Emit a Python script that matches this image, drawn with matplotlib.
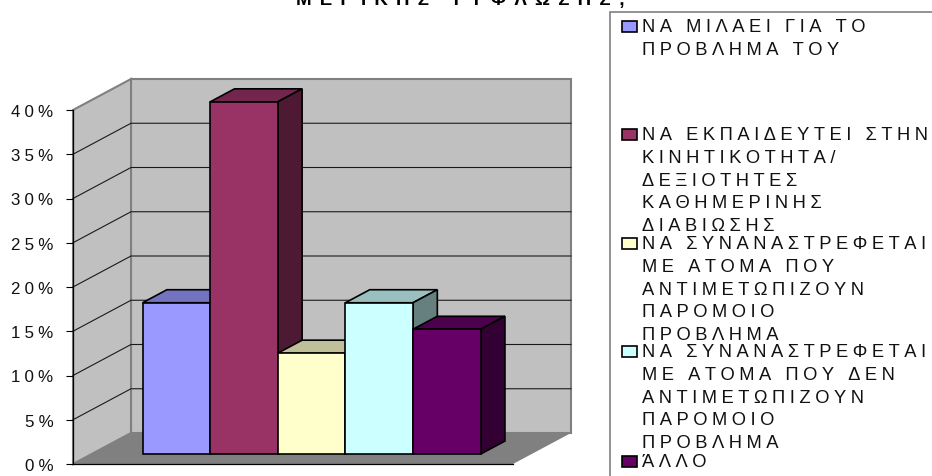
import matplotlib
matplotlib.use("Agg")
import matplotlib.pyplot as plt
from matplotlib.patches import Polygon, Rectangle

plt.rcParams['font.family'] = ['Liberation Sans', 'DejaVu Sans']

W, H = 932, 477
HS = '\u200a'  # hair space, the original text is letter spaced


def spaced(s, n=2):
    return (HS * n).join(s)


answers = ['ΝΑ ΜΙΛΑΕΙ ΓΙΑ ΤΟ\nΠΡΟΒΛΗΜΑ ΤΟΥ',
           'ΝΑ ΕΚΠΑΙΔΕΥΤΕΙ ΣΤΗΝ\nΚΙΝΗΤΙΚΟΤΗΤΑ/\nΔΕΞΙΟΤΗΤΕΣ\nΚΑΘΗΜΕΡΙΝΗΣ\nΔΙΑΒΙΩΣΗΣ',
           'ΝΑ ΣΥΝΑΝΑΣΤΡΕΦΕΤΑΙ\nΜΕ ΑΤΟΜΑ ΠΟΥ\nΑΝΤΙΜΕΤΩΠΙΖΟΥΝ\nΠΑΡΟΜΟΙΟ\nΠΡΟΒΛΗΜΑ',
           'ΝΑ ΣΥΝΑΝΑΣΤΡΕΦΕΤΑΙ\nΜΕ ΑΤΟΜΑ ΠΟΥ ΔΕΝ\nΑΝΤΙΜΕΤΩΠΙΖΟΥΝ\nΠΑΡΟΜΟΙΟ\nΠΡΟΒΛΗΜΑ',
           'ΆΛΛΟ']
values = [17.1, 39.8, 11.4, 17.1, 14.1]
front_colors = ['#9999FF', '#993366', '#FFFFCC', '#CCFFFF', '#660066']
top_colors = ['#7373BF', '#73264D', '#BFBF99', '#99BFBF', '#4D004D']
side_colors = ['#4D4D80', '#4D1933', '#808066', '#668080', '#330033']
yticks = [0, 5, 10, 15, 20, 25, 30, 35, 40]
title = 'ΜΕΡΙΚΗΣ ΤΥΦΛΩΣΗΣ;'

fig = plt.figure(figsize=(W / 100, H / 100), dpi=100)
ax = fig.add_axes([73 / W, (H - 465) / H, 440 / W, 354 / H])
ax.set_xlim(-1.254, 5.254)
ax.set_ylim(0, 40)

# oblique depth of the chart box, in data units
px_x = 440 / 6.508
px_y = 354 / 40
dx = 58 / px_x
dy = 31 / px_y
bar_front = 0.32
bar_back = 0.74
x0, x1 = ax.get_xlim()

# walls and floor
ax.add_patch(Polygon([(x0 + dx, dy), (x1 + dx, dy), (x1 + dx, 40 + dy), (x0 + dx, 40 + dy)],
                     fc='#C0C0C0', ec='#808080', lw=1.5, clip_on=False, zorder=1))
ax.add_patch(Polygon([(x0, 0), (x0 + dx, dy), (x0 + dx, 40 + dy), (x0, 40)],
                     fc='#C0C0C0', ec='#808080', lw=1.5, clip_on=False, zorder=1))
for t in yticks[1:-1]:
    ax.plot([x0, x0 + dx, x1 + dx], [t, t + dy, t + dy], color='#1a1a1a', lw=0.8,
            clip_on=False, zorder=2)
ax.add_patch(Polygon([(x0, 0), (x1, 0), (x1 + dx, dy), (x0 + dx, dy)],
                     fc='#808080', ec='none', clip_on=False, zorder=3))

# bars, left to right so each one covers the previous
for i, v in enumerate(values):
    z = 4 + i
    fx, fy = bar_front * dx, bar_front * dy
    bx, by = bar_back * dx, bar_back * dy
    l, r = i - 0.5 + fx, i + 0.5 + fx
    l2, r2 = i - 0.5 + bx, i + 0.5 + bx
    ax.add_patch(Polygon([(l, fy + v), (r, fy + v), (r2, by + v), (l2, by + v)],
                         fc=top_colors[i], ec='black', lw=1.2, clip_on=False, zorder=z))
    ax.add_patch(Polygon([(r, fy), (r2, by), (r2, by + v), (r, fy + v)],
                         fc=side_colors[i], ec='black', lw=1.2, clip_on=False, zorder=z))
    ax.bar(i + fx, v, width=1, bottom=fy, color=front_colors[i], edgecolor='black',
           linewidth=1.2, clip_on=False, zorder=z)

for s in ['top', 'right']:
    ax.spines[s].set_visible(False)
for s in ['left', 'bottom']:
    ax.spines[s].set_linewidth(0.9)
    ax.spines[s].set_zorder(20)
ax.set_xticks([])
ax.set_yticks(yticks)
ax.set_yticklabels([spaced(str(t) + '%', 3) for t in yticks], fontsize=12.2, color='#111111')
ax.tick_params(axis='y', length=5, width=0.8, pad=9)
ax.patch.set_visible(False)

fig.text(461 / W, 1 - 5 / H, spaced(title, 5), fontsize=13.5, fontweight='bold',
         ha='center', va='baseline')

# legend box runs off the picture on the right and below
fig.add_artist(Rectangle((610 / W, -0.05), 0.5, 1 - 13 / H + 0.05, transform=fig.transFigure,
                         fc='white', ec='#808080', lw=1.2))
first_lines = [32, 140, 249, 357, 467]
for a, base, c in zip(answers, first_lines, front_colors):
    lines = a.split('\n')
    for k, line in enumerate(lines):
        fig.text(642 / W, 1 - (base + k * 22.8) / H, spaced(line, 3), fontsize=13.2,
                 color='#111111', ha='left', va='baseline')
    fig.add_artist(Rectangle((622 / W, 1 - (base + 0.5) / H), 15 / W, 11 / H,
                             transform=fig.transFigure, fc=c, ec='black', lw=1.2))

fig.savefig('out.png', dpi=100)
